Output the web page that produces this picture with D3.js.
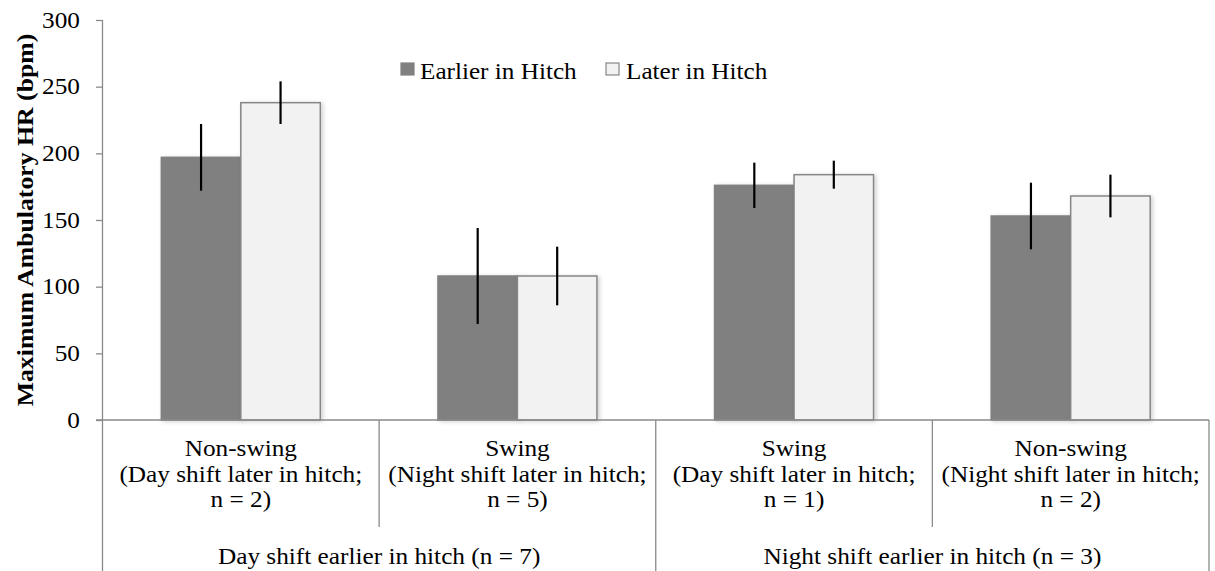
<!DOCTYPE html>
<html>
<head>
<meta charset="utf-8">
<script src="https://cdn.jsdelivr.net/npm/d3@7"></script>
<style>
  html, body { margin: 0; padding: 0; background: #fff; }
  svg { display: block; }
</style>
</head>
<body>
<svg id="chart" width="1215" height="571"></svg>
<script>
// ---- data ----
const categories = ["c1", "c2", "c3", "c4"];
const catLine1 = ["Non-swing", "Swing", "Swing", "Non-swing"];
const catLine2 = ["(Day shift later in hitch;", "(Night shift later in hitch;", "(Day shift later in hitch;", "(Night shift later in hitch;"];
const catLine3 = ["n = 2)", "n = 5)", "n = 1)", "n = 2)"];
const groupLabels = ["Day shift earlier in hitch (n = 7)", "Night shift earlier in hitch (n = 3)"];
const seriesNames = ["Earlier in Hitch", "Later in Hitch"];
const earlier = [197, 108, 176, 153];
const earlierErr = [25, 36, 17, 25];
const later = [238, 108, 184, 168];
const laterErr = [16, 22, 10.5, 16];
const yTicks = [0, 50, 100, 150, 200, 250, 300];
const yTitle = "Maximum Ambulatory HR (bpm)";

// ---- layout ----
const X0 = 102.5, X1 = 1209, Y0 = 420, YT = 20;
const FS = 23, SX = 1.1;
const FONT = "'Liberation Serif', Tinos, 'Times New Roman', Times, 'DejaVu Serif', serif";
const axisColor = "#8a8a8a";

const svg = d3.select("#chart");

const defs = svg.append("defs");
const f = defs.append("filter").attr("id", "shadow").attr("x", "-10%").attr("y", "-10%").attr("width", "130%").attr("height", "130%");
f.append("feDropShadow").attr("dx", 2).attr("dy", 1).attr("stdDeviation", 2).attr("flood-color", "#000").attr("flood-opacity", 0.18);

const y = d3.scaleLinear().domain([0, 300]).range([Y0, YT]);
const x = d3.scaleBand().domain(categories).range([X0, X1]).padding(0);
const xs = d3.scaleBand().domain(seriesNames).range([0, x.bandwidth()]).paddingInner(0).paddingOuter(0.74);

function txt(g, px, py, s, anchor, opts = {}) {
  const t = g.append("text")
    .attr("transform", `translate(${px},${py})${opts.rotate ? " rotate(" + opts.rotate + ")" : ""} scale(${opts.sx || SX},1)`)
    .attr("text-anchor", anchor)
    .attr("font-family", FONT)
    .attr("font-size", (opts.fs || FS))
    .attr("fill", "#000")
    .text(s);
  if (opts.bold) t.attr("font-weight", "bold");
  return t;
}

// ---- y axis ----
const yAxis = d3.axisLeft(y).tickValues(yTicks).tickSize(6.5).tickFormat("");
const gy = svg.append("g").attr("transform", `translate(${X0},0)`).call(yAxis);
gy.select(".domain").remove();
gy.selectAll(".tick line").attr("stroke", axisColor).attr("stroke-width", 1.3);
yTicks.forEach(v => txt(svg, 80, y(v) + 7.5, String(v), "end"));

// axis lines
svg.append("line").attr("x1", X0).attr("x2", X0).attr("y1", YT).attr("y2", 571)
  .attr("stroke", axisColor).attr("stroke-width", 1.3);

// y title
txt(svg, 33, 220, yTitle, "middle", { rotate: -90, bold: true, fs: 23, sx: 1.12 });

// ---- bars ----
const series = [
  { name: seriesNames[0], vals: earlier, errs: earlierErr, fill: "#808080", stroke: "#808080" },
  { name: seriesNames[1], vals: later, errs: laterErr, fill: "#f2f2f2", stroke: "#868686" }
];
const gBars = svg.append("g");
series.forEach(s => {
  gBars.selectAll(null).data(categories).enter().append("rect")
    .attr("x", (c) => x(c) + xs(s.name))
    .attr("y", (c, i) => y(s.vals[i]))
    .attr("width", xs.bandwidth())
    .attr("height", (c, i) => Y0 - y(s.vals[i]))
    .attr("fill", s.fill)
    .attr("stroke", s.stroke)
    .attr("stroke-width", 1.5)
    .attr("filter", "url(#shadow)");
});
// axis baseline over bars
svg.append("line").attr("x1", X0 - 6.5).attr("x2", X1).attr("y1", Y0).attr("y2", Y0)
  .attr("stroke", axisColor).attr("stroke-width", 1.3);

// error bars
series.forEach(s => {
  gBars.selectAll(null).data(categories).enter().append("line")
    .attr("x1", (c) => x(c) + xs(s.name) + xs.bandwidth() / 2)
    .attr("x2", (c) => x(c) + xs(s.name) + xs.bandwidth() / 2)
    .attr("y1", (c, i) => y(s.vals[i] + s.errs[i]))
    .attr("y2", (c, i) => y(s.vals[i] - s.errs[i]))
    .attr("stroke", "#000")
    .attr("stroke-width", 2.2);
});

// ---- category axis structure ----
const sepX = [x(categories[1]), x(categories[3])];
sepX.forEach(px => svg.append("line").attr("x1", px).attr("x2", px).attr("y1", Y0).attr("y2", 527)
  .attr("stroke", axisColor).attr("stroke-width", 1.3));
[x(categories[2]), X1].forEach(px => svg.append("line").attr("x1", px).attr("x2", px).attr("y1", Y0).attr("y2", 571)
  .attr("stroke", axisColor).attr("stroke-width", 1.3));

categories.forEach((c, i) => {
  const cx = x(c) + x.bandwidth() / 2;
  txt(svg, cx, 456, catLine1[i], "middle");
  txt(svg, cx, 481.5, catLine2[i], "middle");
  txt(svg, cx, 507, catLine3[i], "middle");
});
groupLabels.forEach((g, i) => {
  const cx = (x(categories[i * 2]) + x(categories[i * 2 + 1]) + x.bandwidth()) / 2;
  txt(svg, cx, 564, g, "middle");
});

// ---- legend ----
const lg = svg.append("g");
const legendItems = [
  { name: seriesNames[0], sx: 401, tx: 420, fill: "#808080", stroke: "#808080" },
  { name: seriesNames[1], sx: 606, tx: 626, fill: "#f2f2f2", stroke: "#868686" }
];
legendItems.forEach(d => {
  lg.append("rect").attr("x", d.sx).attr("y", 63).attr("width", 13).attr("height", 12)
    .attr("fill", d.fill).attr("stroke", d.stroke).attr("stroke-width", 1.2);
  txt(lg, d.tx, 79, d.name, "start", { fs: 24, sx: 1.05 });
});
</script>
</body>
</html>
